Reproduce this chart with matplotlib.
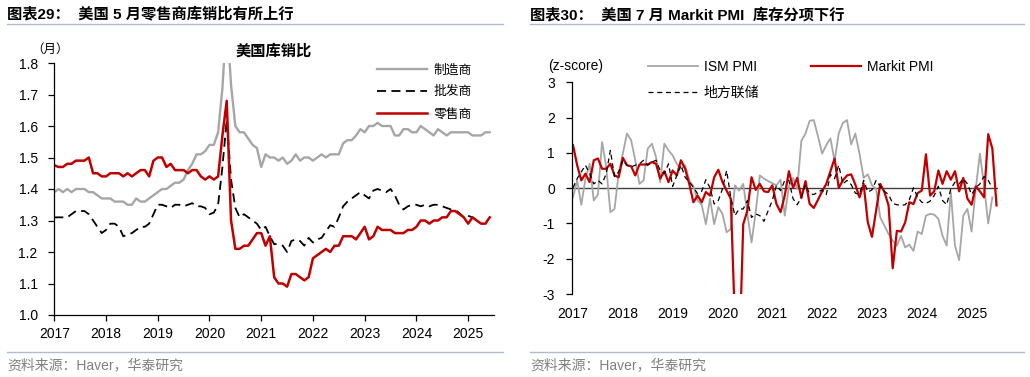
import numpy as np
import matplotlib
matplotlib.use("Agg")
import matplotlib.pyplot as plt
from matplotlib.lines import Line2D

plt.rcParams["font.family"] = ["Liberation Sans", "Noto Sans CJK SC"]
plt.rcParams["axes.unicode_minus"] = False

W, H = 1030, 377


def fx(x):
    return x / W


def fy(y):
    return 1 - y / H


# ---- data: left chart, US inventory/sales ratio (months), monthly from Jan 2017
manufacturing = [
    1.39, 1.40, 1.39, 1.40, 1.39, 1.40, 1.40, 1.40, 1.39, 1.39, 1.38, 1.37,
    1.37, 1.37, 1.36, 1.36, 1.36, 1.35, 1.35, 1.37, 1.36, 1.36, 1.37, 1.38,
    1.39, 1.40, 1.40, 1.41, 1.42, 1.42, 1.43, 1.46, 1.48, 1.51, 1.51, 1.52,
    1.54, 1.54, 1.58, 1.72, 1.95, 1.73, 1.60, 1.58, 1.58, 1.56, 1.54, 1.53,
    1.47, 1.51, 1.50, 1.50, 1.49, 1.50, 1.48, 1.49, 1.51, 1.49, 1.50, 1.50,
    1.49, 1.50, 1.51, 1.50, 1.51, 1.51, 1.51, 1.545, 1.555, 1.555, 1.57, 1.59,
    1.58, 1.60, 1.60, 1.61, 1.60, 1.60, 1.60, 1.57, 1.57, 1.59, 1.59, 1.58,
    1.58, 1.60, 1.59, 1.58, 1.57, 1.59, 1.58, 1.57, 1.58, 1.58, 1.58, 1.58,
    1.58, 1.57, 1.57, 1.57, 1.58, 1.58,
]
wholesale = [
    1.31, 1.31, 1.31, 1.31, 1.32, 1.33, 1.33, 1.33, 1.32, 1.30, 1.28, 1.26,
    1.27, 1.29, 1.29, 1.28, 1.25, 1.255, 1.26, 1.27, 1.28, 1.28, 1.29, 1.32,
    1.35, 1.35, 1.345, 1.34, 1.35, 1.35, 1.345, 1.35, 1.355, 1.345, 1.345, 1.34,
    1.32, 1.325, 1.35, 1.47, 1.62, 1.43, 1.34, 1.31, 1.32, 1.31, 1.30, 1.29,
    1.27, 1.28, 1.25, 1.225, 1.225, 1.22, 1.20, 1.235, 1.24, 1.235, 1.22, 1.245,
    1.23, 1.24, 1.245, 1.265, 1.285, 1.28, 1.31, 1.345, 1.36, 1.37, 1.38, 1.39,
    1.38, 1.37, 1.395, 1.40, 1.395, 1.39, 1.40, 1.38, 1.35, 1.335, 1.345, 1.35,
    1.35, 1.345, 1.35, 1.345, 1.35, 1.35, 1.345, 1.34, 1.335, 1.333, 1.323, 1.31,
    1.315, 1.31, 1.30, 1.295,
]
retail = [
    1.475, 1.47, 1.47, 1.48, 1.48, 1.49, 1.49, 1.49, 1.50, 1.45, 1.45, 1.44,
    1.44, 1.45, 1.45, 1.45, 1.44, 1.45, 1.44, 1.45, 1.46, 1.46, 1.44, 1.49,
    1.50, 1.50, 1.47, 1.48, 1.46, 1.46, 1.46, 1.45, 1.46, 1.46, 1.44, 1.43,
    1.44, 1.43, 1.44, 1.57, 1.68, 1.30, 1.21, 1.21, 1.22, 1.22, 1.24, 1.26,
    1.26, 1.22, 1.25, 1.12, 1.10, 1.10, 1.09, 1.13, 1.13, 1.12, 1.11, 1.12,
    1.18, 1.19, 1.20, 1.21, 1.20, 1.22, 1.22, 1.25, 1.25, 1.25, 1.24, 1.26,
    1.28, 1.24, 1.25, 1.28, 1.27, 1.27, 1.27, 1.26, 1.26, 1.26, 1.27, 1.27,
    1.28, 1.30, 1.30, 1.29, 1.30, 1.30, 1.31, 1.31, 1.33, 1.33, 1.32, 1.31,
    1.29, 1.31, 1.30, 1.29, 1.29, 1.31,
]

# ---- data: right chart, inventory sub-indices (z-score), monthly from Jan 2017
ism_pmi = [
    -0.26, 0.22, -0.47, 0.27, 0.69, -0.35, -0.18, 1.31, 0.60, -0.68, -0.59, 0.41,
    0.98, 1.55, 1.36, 0.79, 0.12, 0.22, 1.12, 1.26, 0.88, 0.17, 1.26, 1.07,
    0.93, 0.69, 0.55, 0.65, 0.22, 0.05, -0.35, -0.47, -1.02, -0.30, -1.02, -0.54,
    -0.73, -1.25, -1.16, 0.08, -0.07, 0.12, -0.73, -1.54, -0.68, 0.36, 0.27, 0.20,
    0.14, 0.08, 0.24, -0.78, 0.05, 0.29, -0.02, 1.34, 1.55, 1.91, 1.93, 1.47,
    0.98, 1.22, 1.41, 0.77, 1.55, 1.85, 1.93, 1.24, 1.55, 0.98, 0.29, 0.39,
    0.08, -0.02, -0.83, -1.06, -1.30, -1.49, -1.63, -1.35, -1.68, -1.60, -1.78, -1.23,
    -1.30, -0.78, -0.73, -0.75, -0.87, -1.35, -1.63, -0.11, -1.63, -2.04, -0.78, -0.59,
    -1.23, -0.02, 0.98, 0.08, -1.00, -0.26,
]
markit_pmi = [
    1.22, 0.65, 0.22, 0.41, 0.17, 0.79, 0.84, 0.55, 0.55, 0.69, 0.36, 0.31,
    0.86, 0.65, 0.62, 0.36, 0.67, 0.67, 0.67, 0.74, 0.69, 0.27, 0.48, 0.17,
    0.50, 0.36, 0.79, 0.55, 0.12, -0.40, -0.21, -0.40, -0.11, -0.21, 0.31, 0.52,
    0.17, -0.07, -0.30, -3.80, -5.00, -1.02, -0.64, 0.31, -0.05, 0.12, -0.09, -0.11,
    0.08, -0.45, -0.68, -0.21, 0.48, 0.01, 0.29, -0.28, 0.20, -0.45, -0.56, -0.33,
    -0.09, 0.12, 0.48, 0.84, 0.01, 0.22, 0.36, 0.39, 0.10, -0.26, 0.12, -0.97,
    -1.38, -0.64, 0.12, -0.11, -0.49, -2.27, -1.21, -1.23, -0.97, -0.40, -0.45, -0.14,
    -0.07, 0.96, -0.21, -0.09, 0.50, 0.12, 0.48, 0.24, 0.48, -0.09, 0.29, -0.30,
    -0.47, 0.05, -0.09, -0.26, 1.53, 1.12, -0.49,
]
regional_fed = [
    0.01, 0.27, 0.46, 0.65, 0.41, 0.12, 0.22, 0.12, 0.41, 1.07, 0.33, 0.46,
    0.79, 0.65, 0.60, 0.65, 0.69, 0.79, 0.65, 0.74, 0.79, 0.50, 0.41, 0.69,
    0.05, 0.36, 0.65, 0.31, 0.17, 0.03, -0.16, -0.09, 0.24, 0.01, -0.45, -0.35,
    -0.02, 0.50, -0.26, -0.78, -0.59, -0.59, -0.35, -0.83, -0.73, -0.78, -0.94, -0.64,
    -0.35, 0.08, -0.07, 0.22, 0.22, -0.30, -0.47, -0.26, 0.10, -0.16, -0.18, -0.11,
    -0.05, -0.18, 0.39, 0.27, 0.65, 0.12, 0.22, 0.10, -0.14, -0.18, 0.22, -0.11,
    -0.05, 0.22, 0.05, -0.09, -0.18, -0.43, -0.47, -0.49, -0.47, -0.33, 0.01, -0.26,
    -0.40, -0.43, -0.37, -0.21, 0.05, -0.35, -0.47, -0.02, 0.17, 0.12, 0.27, 0.12,
    -0.18, 0.01, 0.12, 0.33, 0.22, 0.01,
]

years = list(range(2017, 2026))


def months(series):
    return 2017 + np.arange(len(series)) / 12


RED = "#C00000"
GREY = "#A6A6A6"
RULE = "#AFBCCB"
SOURCE = "#808080"

fig = plt.figure(figsize=(W / 100, H / 100), dpi=100)

# headers, rules and footers
fig.text(fx(7), fy(15), "图表29：  美国 5 月零售商库销比有所上行", fontsize=11, fontweight="bold", va="center")
fig.text(fx(530), fy(15), "图表30：  美国 7 月 Markit PMI  库存分项下行", fontsize=11, fontweight="bold", va="center")
for x0, x1 in [(7, 503), (530, 1024)]:
    fig.add_artist(Line2D([fx(x0), fx(x1)], [fy(24), fy(24)], color=RULE, lw=1.0))
    fig.add_artist(Line2D([fx(x0), fx(x1)], [fy(352), fy(352)], color=RULE, lw=1.0))
fig.text(fx(7), fy(365), "资料来源：Haver，华泰研究", fontsize=10, color=SOURCE, va="center")
fig.text(fx(530), fy(365), "资料来源：Haver，华泰研究", fontsize=10, color=SOURCE, va="center")

# ---- left chart
ax1 = fig.add_axes([fx(54.3), fy(315), (494 - 54.3) / W, (315 - 63) / H])
ax1.plot(months(manufacturing), manufacturing, color=GREY, lw=1.7, label="制造商")
ax1.plot(months(wholesale), wholesale, color="black", lw=1.3, dashes=(5, 3), label="批发商")
ax1.plot(months(retail), retail, color=RED, lw=1.8, label="零售商")
ax1.set_xlim(2017, 2025.5)
ax1.set_ylim(1.0, 1.8)
ax1.set_yticks(np.arange(1.0, 1.81, 0.1))
ax1.set_yticklabels([f"{v:.1f}" for v in np.arange(1.0, 1.81, 0.1)])
ax1.set_xticks(years)
ax1.set_xticklabels([str(y) for y in years])
for side in ["top", "right"]:
    ax1.spines[side].set_visible(False)
for side in ["left", "bottom"]:
    ax1.spines[side].set_linewidth(0.9)
ax1.tick_params(axis="y", direction="out", length=4, width=0.9, labelsize=10, pad=8)
ax1.tick_params(axis="x", direction="out", length=4, width=0.9, labelsize=10, pad=5)
ax1.set_title("美国库销比", fontsize=11, fontweight="bold", pad=5)
fig.text(fx(50), fy(50), "（月）", fontsize=9, ha="center", va="center")
ax1.legend(
    loc="upper left", bbox_to_anchor=(fx(377), fy(64)), bbox_transform=fig.transFigure,
    frameon=False, fontsize=9.2, handlelength=3.9, handletextpad=0.55,
    labelspacing=0.78, borderpad=0, borderaxespad=0,
)

# ---- right chart
ax2 = fig.add_axes([fx(571.5), fy(294), (998 - 571.5) / W, (294 - 82.3) / H])
ax2.axhline(0, color="#404040", lw=1.0)
ax2.plot(months(ism_pmi), ism_pmi, color=GREY, lw=1.3, label="ISM PMI")
ax2.plot(months(markit_pmi), markit_pmi, color=RED, lw=1.6, label="Markit PMI")
ax2.plot(months(regional_fed), regional_fed, color="black", lw=0.9, dashes=(4, 3), label="地方联储")
ax2.set_xlim(2016.97, 2025.53)
ax2.set_ylim(-3, 3)
ax2.set_yticks(range(-3, 4))
ax2.set_xticks(years)
ax2.set_xticklabels([str(y) for y in years])
for side in ["top", "right", "bottom"]:
    ax2.spines[side].set_visible(False)
ax2.spines["left"].set_linewidth(0.9)
ax2.tick_params(axis="y", direction="out", length=4, width=0.9, labelsize=10, pad=8)
ax2.tick_params(axis="x", length=0, labelsize=10, pad=9)
fig.text(fx(575.5), fy(66), "(z-score)", fontsize=10, ha="center", va="center")
handles, labels = ax2.get_legend_handles_labels()
order = [0, 2, 1]
ax2.legend(
    [handles[i] for i in order], [labels[i] for i in order],
    loc="upper left", bbox_to_anchor=(fx(647.7), fy(60)), bbox_transform=fig.transFigure,
    ncol=2, frameon=False, fontsize=10, handlelength=3.6, handletextpad=0.45,
    labelspacing=0.85, columnspacing=3.7, borderpad=0, borderaxespad=0,
)

fig.savefig("out.png", dpi=100)
